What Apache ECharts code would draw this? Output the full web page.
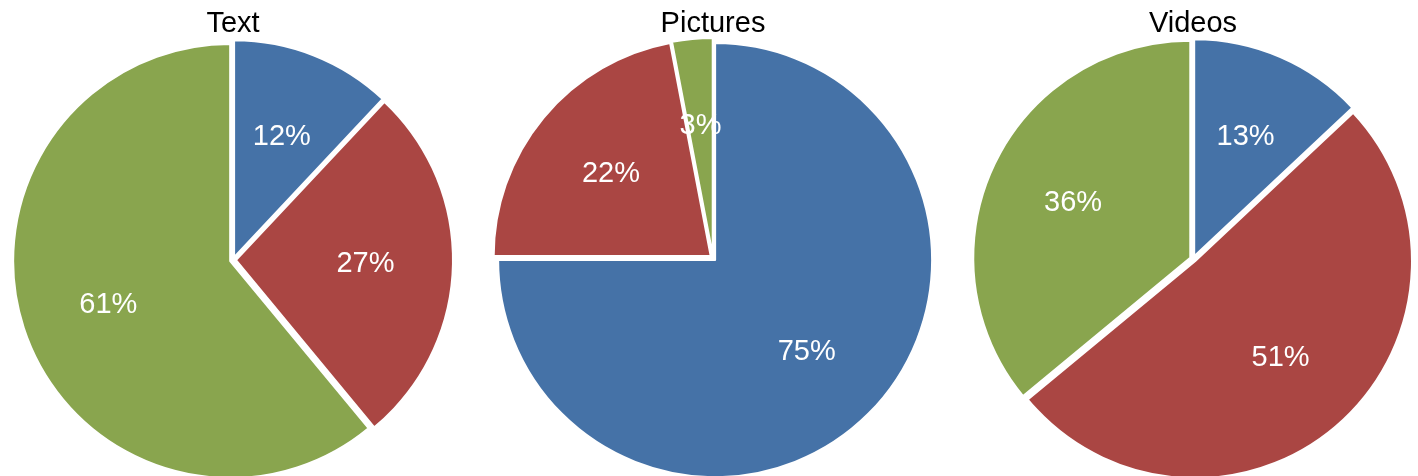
<!DOCTYPE html>
<html>
<head>
<meta charset="utf-8">
<script src="https://cdn.jsdelivr.net/npm/echarts@6/dist/echarts.min.js"></script>
<style>html,body{margin:0;padding:0;background:#fff}#c{width:1418px;height:476px}</style>
</head>
<body>
<div id="c"></div>
<script>
const categories = ['Blue', 'Red', 'Green'];
const titles = ['Text', 'Pictures', 'Videos'];
const textValues = [12, 27, 61];
const picturesValues = [75, 22, 3];
const videosValues = [13, 51, 36];
const colors = ['#4572A7', '#AA4643', '#89A54E'];

const allValues = [textValues, picturesValues, videosValues];
const centers = [[233, 260], [713, 258], [1193, 259]];
const R = 217;
const FONT = '"Liberation Sans", Arial, sans-serif';

function makeData(vals, transparent) {
  return vals.map((v, i) => ({
    name: categories[i],
    value: v,
    selected: true,
    itemStyle: transparent ? { color: 'rgba(0,0,0,0)', borderWidth: 0 } : { color: colors[i] }
  }));
}

const series = [];
allValues.forEach((vals, k) => {
  series.push({
    type: 'pie',
    center: centers[k],
    radius: [0, R],
    startAngle: 90,
    clockwise: true,
    selectedMode: 'multiple',
    selectedOffset: 3,
    silent: true,
    label: { show: false },
    labelLine: { show: false },
    itemStyle: { borderColor: '#fff', borderWidth: 2 },
    data: makeData(vals, false)
  });
  series.push({
    type: 'pie',
    center: centers[k],
    radius: [36, R],
    startAngle: 90,
    clockwise: true,
    selectedMode: 'multiple',
    selectedOffset: 3,
    silent: true,
    z: 5,
    label: {
      show: true,
      position: 'inside',
      formatter: p => p.value + '%',
      color: '#fff',
      fontSize: 29,
      fontFamily: FONT
    },
    labelLine: { show: false },
    data: makeData(vals, true)
  });
});

const chart = echarts.init(document.getElementById('c'), null, { renderer: 'canvas' });
chart.setOption({
  animation: false,
  backgroundColor: '#fff',
  title: titles.map((t, k) => ({
    text: t,
    left: centers[k][0],
    top: 9,
    padding: 0,
    textAlign: 'center',
    textStyle: { color: '#000', fontSize: 29, fontWeight: 'normal', fontFamily: FONT }
  })),
  series: series
});
</script>
</body>
</html>
